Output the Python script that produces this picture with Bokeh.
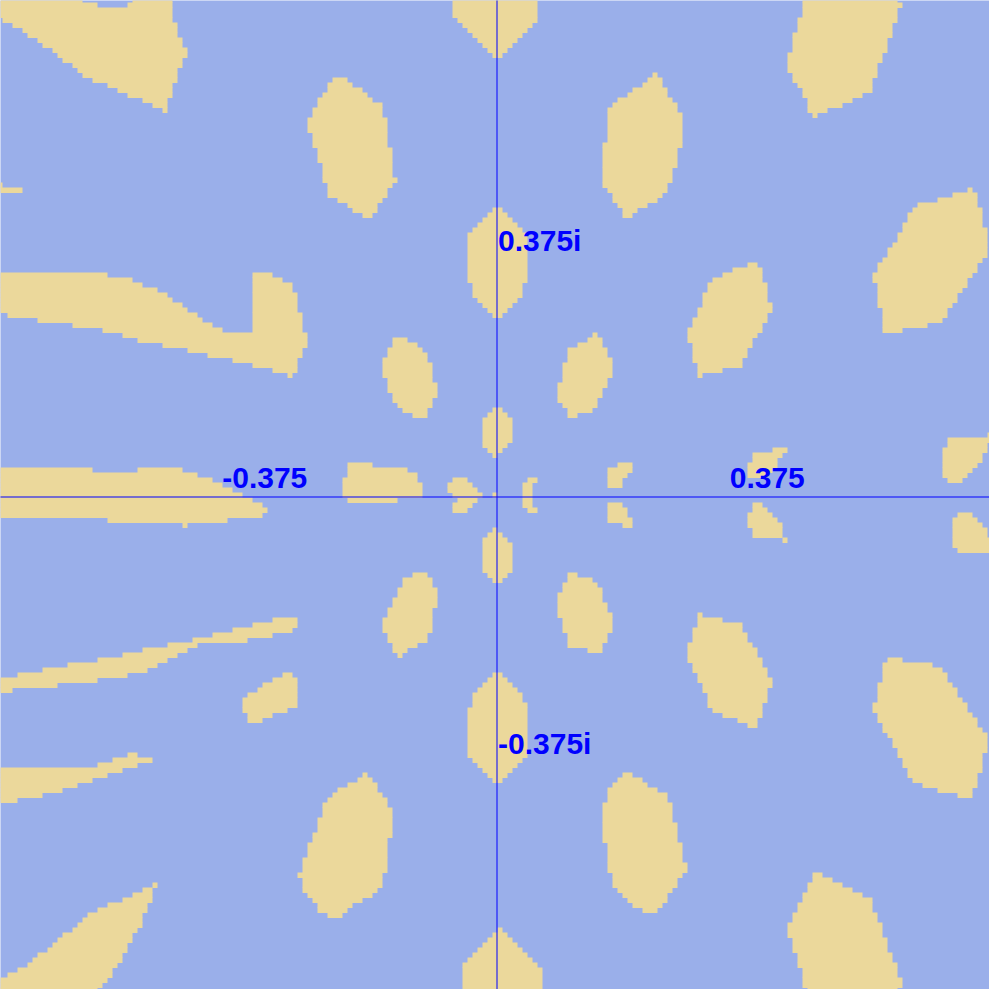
from bokeh.plotting import figure
from bokeh.core.properties import value
from bokeh.embed import file_html
from bokeh.resources import INLINE

# the picture is a sampled grid: one cell = 1/134 unit, the axes cross at cell 100.9
CELL = 1 / 134
ZERO = 100.9
PIXEL = 1 / 670  # one screen pixel in plane units

# yellow runs: (first row, last row, first col, end col)
top_left_wedge = [(0, 0, 0, 16), (0, 0, 28, 36), (1, 1, 0, 18), (1, 1, 28, 36), (2, 2, 0, 21), (2, 2, 27, 36),
                  (3, 4, 0, 36), (5, 5, 2, 36), (6, 6, 4, 37), (7, 7, 6, 37), (8, 8, 7, 37), (9, 9, 9, 38),
                  (10, 10, 10, 38), (11, 11, 12, 39), (12, 12, 13, 39), (13, 13, 14, 38), (14, 14, 16, 38),
                  (15, 15, 17, 37), (16, 16, 18, 37), (17, 17, 20, 37), (18, 18, 23, 36), (19, 19, 25, 36),
                  (20, 20, 27, 36), (21, 21, 30, 35), (22, 22, 32, 35), (23, 23, 34, 35)]
left_sliver = [(38, 38, 0, 2), (39, 39, 0, 6)]
upper_left_streak = [(56, 56, 0, 23), (56, 56, 52, 56), (57, 57, 0, 28), (57, 57, 52, 58), (58, 58, 0, 30),
                     (58, 59, 52, 60), (59, 59, 0, 33), (60, 60, 0, 35), (60, 63, 52, 61), (61, 61, 0, 36),
                     (62, 62, 0, 38), (63, 63, 0, 39), (64, 64, 3, 41), (64, 67, 52, 62), (65, 65, 9, 42),
                     (66, 66, 16, 44), (67, 67, 22, 46), (68, 68, 26, 63), (69, 69, 29, 63), (70, 70, 34, 63),
                     (71, 71, 39, 62), (72, 72, 43, 62), (73, 73, 48, 61), (74, 74, 52, 61), (75, 75, 56, 61),
                     (76, 76, 59, 60)]
upper_left_oval = [(17, 17, 68, 71), (18, 18, 67, 72), (19, 19, 67, 74), (20, 20, 66, 75), (21, 21, 65, 76),
                   (22, 22, 65, 78), (23, 24, 64, 78), (25, 27, 63, 79), (28, 30, 64, 79), (31, 33, 65, 80),
                   (34, 36, 66, 80), (37, 37, 66, 81), (38, 38, 67, 80), (39, 40, 67, 79), (41, 41, 69, 78),
                   (42, 42, 71, 77), (43, 43, 72, 77), (44, 44, 74, 76)]
top_center = [(0, 4, 92, 109), (5, 5, 93, 109), (6, 6, 94, 108), (7, 7, 95, 107), (8, 8, 96, 106),
              (9, 9, 97, 105), (10, 10, 98, 104), (11, 11, 99, 103), (12, 12, 100, 102)]
upper_axis_drop = [(43, 43, 100, 102), (44, 44, 99, 103), (45, 45, 98, 104), (46, 46, 97, 105), (47, 47, 96, 106),
                   (48, 57, 95, 107), (58, 60, 96, 106), (61, 61, 97, 105), (62, 62, 98, 104), (63, 63, 99, 103),
                   (64, 64, 100, 102)]
upper_right_oval = [(16, 16, 132, 133), (17, 17, 131, 134), (18, 18, 130, 134), (19, 19, 128, 135),
                    (20, 20, 127, 135), (21, 21, 125, 136), (22, 22, 124, 137), (23, 23, 123, 137),
                    (24, 29, 123, 138), (30, 30, 122, 138), (31, 34, 122, 137), (35, 37, 122, 136),
                    (38, 38, 122, 135), (39, 39, 123, 135), (40, 40, 124, 134), (41, 41, 124, 133),
                    (42, 42, 125, 131), (43, 43, 126, 129), (44, 44, 126, 128)]
top_right_oval = [(0, 0, 163, 181), (1, 1, 162, 181), (2, 2, 162, 182), (3, 4, 162, 181), (5, 5, 161, 181),
                  (6, 7, 161, 180), (8, 8, 160, 180), (9, 11, 160, 179), (12, 13, 159, 178), (14, 15, 159, 177),
                  (16, 16, 160, 177), (17, 17, 160, 176), (18, 18, 161, 176), (19, 19, 162, 176),
                  (20, 20, 162, 174), (21, 21, 163, 172), (22, 22, 163, 170), (23, 23, 163, 167),
                  (24, 24, 164, 165)]
far_right_oval = [(39, 39, 195, 196), (40, 40, 192, 197), (41, 41, 189, 197), (42, 42, 185, 197),
                  (43, 43, 184, 198), (44, 45, 183, 198), (46, 46, 182, 198), (47, 47, 182, 199),
                  (48, 49, 181, 199), (50, 50, 180, 199), (51, 52, 179, 199), (53, 53, 178, 198),
                  (54, 55, 177, 197), (56, 56, 176, 196), (57, 57, 176, 195), (58, 58, 177, 195),
                  (59, 59, 177, 194), (60, 61, 177, 193), (62, 62, 177, 192), (63, 64, 178, 191),
                  (65, 65, 178, 190), (66, 66, 178, 187), (67, 67, 178, 182)]
right_oval = [(54, 54, 151, 153), (55, 55, 148, 154), (56, 56, 146, 154), (57, 57, 144, 154), (58, 59, 143, 155),
              (60, 61, 142, 155), (62, 62, 142, 156), (63, 63, 141, 156), (64, 64, 141, 155), (65, 65, 140, 155),
              (66, 66, 140, 154), (67, 67, 139, 154), (68, 68, 139, 153), (69, 69, 139, 152), (70, 70, 140, 152),
              (71, 72, 140, 151), (73, 73, 140, 150), (74, 74, 141, 150), (75, 75, 141, 146), (76, 76, 141, 142)]

# inner ring around the origin
inner_upper_left = [(69, 69, 80, 83), (70, 70, 80, 85), (71, 71, 79, 86), (72, 72, 79, 87), (73, 73, 78, 87),
                    (74, 76, 78, 88), (77, 77, 79, 88), (78, 79, 79, 89), (80, 80, 80, 89), (81, 81, 80, 88),
                    (82, 82, 81, 88), (83, 83, 82, 87), (84, 84, 84, 87)]
inner_upper_right = [(68, 68, 120, 121), (69, 69, 119, 122), (70, 70, 117, 122), (71, 72, 115, 123),
                     (73, 73, 115, 124), (74, 76, 114, 124), (77, 77, 114, 123), (78, 78, 113, 123),
                     (79, 80, 113, 122), (81, 81, 113, 121), (82, 82, 114, 121), (83, 83, 115, 120),
                     (84, 84, 115, 117)]
inner_top = [(83, 83, 100, 102), (84, 84, 99, 103), (85, 89, 98, 104), (90, 90, 98, 103), (91, 91, 99, 102),
             (92, 92, 100, 101)]
inner_left_band = [(94, 94, 71, 76), (95, 95, 71, 83), (96, 96, 71, 85), (97, 97, 70, 85), (98, 100, 70, 86),
                   (101, 101, 71, 81)]
center_left = [(97, 97, 92, 95), (98, 98, 91, 96), (99, 99, 91, 97), (100, 100, 92, 98), (101, 101, 93, 97),
               (102, 102, 92, 96), (103, 103, 92, 95)]
center_dot = [(100, 100, 100, 101)]
center_right = [(97, 97, 107, 109), (98, 102, 106, 108), (103, 103, 107, 109)]
inner_right = [(94, 94, 125, 128), (95, 95, 123, 128), (96, 96, 123, 127), (97, 98, 123, 126),
               (102, 102, 123, 126), (103, 104, 123, 127), (105, 105, 123, 128), (106, 106, 126, 128)]
inner_bottom = [(107, 107, 100, 101), (108, 108, 99, 102), (109, 109, 98, 103), (110, 115, 98, 104),
                (116, 116, 99, 103), (117, 117, 100, 102)]
inner_lower_left = [(116, 116, 84, 87), (117, 118, 82, 88), (119, 120, 81, 89), (121, 122, 80, 89),
                    (123, 124, 79, 88), (125, 127, 78, 88), (128, 129, 79, 87), (130, 130, 80, 85),
                    (131, 131, 80, 83), (132, 132, 81, 82)]
inner_lower_right = [(116, 116, 115, 117), (117, 117, 115, 120), (118, 118, 114, 121), (119, 119, 114, 122),
                     (120, 121, 113, 122), (122, 123, 113, 123), (124, 124, 113, 124), (125, 127, 114, 124),
                     (128, 129, 115, 123), (130, 130, 115, 122), (131, 131, 119, 122)]

# right half, near the real axis
label_blob_upper = [(91, 91, 156, 159), (92, 92, 152, 158), (93, 93, 152, 157), (94, 94, 151, 157),
                    (95, 95, 151, 156), (96, 96, 151, 155)]
label_blob_lower = [(102, 102, 152, 154), (103, 103, 152, 155), (104, 104, 151, 156), (105, 105, 151, 157),
                    (106, 106, 151, 158), (107, 108, 152, 158), (109, 109, 158, 159)]
edge_right_upper = [(88, 88, 199, 200), (89, 89, 191, 200), (90, 90, 191, 199), (91, 91, 190, 199),
                    (92, 93, 190, 198), (94, 94, 190, 197), (95, 95, 190, 196), (96, 96, 190, 195),
                    (97, 97, 191, 194)]
edge_right_lower = [(104, 104, 193, 196), (105, 105, 192, 197), (106, 106, 192, 198), (107, 108, 192, 199),
                    (109, 110, 192, 200), (111, 111, 193, 201)]
lower_right_oval = [(124, 124, 141, 142), (125, 125, 141, 146), (126, 126, 141, 150), (127, 127, 140, 150),
                    (128, 129, 140, 151), (130, 130, 139, 152), (131, 132, 139, 153), (133, 133, 139, 154),
                    (134, 134, 140, 154), (135, 135, 140, 155), (136, 136, 141, 155), (137, 137, 141, 156),
                    (138, 138, 142, 156), (139, 139, 142, 155), (140, 141, 143, 155), (142, 142, 143, 154),
                    (143, 143, 144, 154), (144, 144, 146, 154), (145, 145, 149, 153), (146, 146, 151, 153)]
far_lower_right = [(133, 133, 179, 182), (134, 134, 178, 188), (135, 135, 178, 190), (136, 137, 178, 191),
                   (138, 138, 177, 192), (139, 140, 177, 193), (141, 141, 177, 194), (142, 143, 176, 195),
                   (144, 144, 177, 196), (145, 145, 177, 197), (146, 146, 178, 197), (147, 147, 178, 198),
                   (148, 148, 179, 199), (149, 150, 180, 199), (151, 151, 181, 199), (152, 152, 181, 198),
                   (153, 154, 182, 198), (155, 155, 183, 198), (156, 156, 183, 197), (157, 157, 184, 197),
                   (158, 158, 186, 197), (159, 159, 189, 196), (160, 160, 193, 196)]
bottom_right_oval = [(176, 176, 164, 166), (177, 177, 164, 168), (178, 178, 163, 170), (179, 179, 163, 172),
                     (180, 180, 162, 174), (181, 181, 162, 176), (182, 183, 161, 176), (184, 185, 160, 177),
                     (186, 188, 159, 178), (189, 191, 160, 179), (192, 193, 161, 180), (194, 194, 161, 181),
                     (195, 196, 162, 181), (197, 198, 162, 182), (199, 200, 163, 181)]

# left half, below the upper streak
real_axis_band = [(95, 95, 0, 20), (95, 95, 29, 38), (96, 96, 0, 41), (97, 97, 0, 44), (98, 98, 0, 46),
                  (99, 99, 0, 48), (100, 100, 0, 50), (101, 101, 0, 52), (102, 102, 0, 54), (103, 103, 0, 55),
                  (104, 104, 0, 54), (105, 105, 23, 47), (106, 106, 38, 39)]
lower_left_streak = [(125, 125, 56, 61), (126, 126, 52, 61), (127, 127, 48, 60), (128, 128, 44, 56),
                     (129, 129, 40, 51), (130, 130, 35, 41), (131, 131, 30, 39), (132, 132, 26, 37),
                     (133, 133, 21, 35), (134, 134, 15, 33), (135, 135, 10, 31), (136, 136, 5, 27),
                     (137, 137, 0, 21), (138, 138, 0, 13), (139, 139, 0, 4)]
small_lower_left = [(136, 136, 58, 60), (137, 137, 56, 61), (138, 138, 54, 61), (139, 139, 53, 61),
                    (140, 140, 51, 61), (141, 142, 50, 61), (143, 143, 50, 59), (144, 144, 51, 56),
                    (145, 145, 51, 54)]
thin_lower_streak = [(152, 152, 27, 29), (153, 153, 24, 32), (154, 154, 21, 29), (155, 155, 0, 26),
                     (156, 156, 0, 23), (157, 157, 0, 20), (158, 158, 0, 17), (159, 159, 0, 14),
                     (160, 160, 0, 10), (161, 161, 0, 5), (162, 162, 0, 1)]
bottom_left_wedge = [(178, 178, 32, 33), (179, 179, 30, 32), (180, 180, 28, 32), (181, 181, 26, 32),
                     (182, 182, 23, 31), (183, 183, 21, 31), (184, 184, 19, 30), (185, 185, 18, 30),
                     (186, 186, 17, 30), (187, 187, 16, 29), (188, 188, 14, 28), (189, 189, 13, 28),
                     (190, 190, 12, 27), (191, 191, 11, 27), (192, 192, 9, 26), (193, 193, 8, 26),
                     (194, 194, 7, 25), (195, 195, 5, 24), (196, 196, 3, 24), (197, 197, 1, 23),
                     (198, 198, 0, 22), (199, 199, 0, 21), (200, 200, 0, 20)]
lower_axis_drop = [(136, 136, 100, 102), (137, 137, 99, 103), (138, 138, 98, 104), (139, 139, 97, 105),
                   (140, 141, 96, 106), (142, 142, 96, 107), (143, 152, 95, 107), (153, 153, 96, 106),
                   (154, 154, 97, 105), (155, 155, 98, 104), (156, 156, 99, 103), (157, 157, 100, 102)]
lower_left_oval = [(156, 156, 74, 75), (157, 157, 73, 76), (158, 158, 71, 77), (159, 159, 69, 77),
                   (160, 160, 68, 78), (161, 161, 67, 79), (162, 162, 66, 79), (163, 164, 66, 80),
                   (165, 167, 65, 80), (168, 168, 64, 80), (169, 169, 64, 79), (170, 172, 63, 79),
                   (173, 175, 62, 79), (176, 176, 61, 78), (177, 178, 62, 78), (179, 179, 62, 77),
                   (180, 180, 63, 76), (181, 181, 64, 74), (182, 182, 65, 72), (183, 183, 65, 71),
                   (184, 184, 67, 70)]
lower_center_right_oval = [(156, 156, 126, 128), (157, 157, 125, 130), (158, 158, 124, 131), (159, 159, 123, 133),
                           (160, 161, 123, 135), (162, 165, 122, 136), (166, 169, 122, 137), (170, 173, 123, 138),
                           (174, 175, 123, 139), (176, 176, 124, 138), (177, 178, 124, 137), (179, 179, 125, 136),
                           (180, 180, 126, 135), (181, 181, 127, 135), (182, 182, 128, 134), (183, 183, 130, 133)]
bottom_center = [(187, 187, 101, 102), (188, 188, 100, 103), (189, 189, 99, 104), (190, 190, 98, 105),
                 (191, 191, 97, 106), (192, 192, 96, 107), (193, 193, 95, 108), (194, 194, 94, 109),
                 (195, 200, 94, 110)]

real_ticks = [-0.375, 0.375]
real_labels = ["-0.375", "0.375"]
imag_ticks = [0.375, -0.375]
imag_labels = ["0.375i", "-0.375i"]

BLUE_BG = "#9aafea"
SAND = "#ebd89b"
AXIS_BLUE = "#0000ff"

blobs = [top_left_wedge, left_sliver, upper_left_streak, upper_left_oval, top_center, upper_axis_drop,
         upper_right_oval, top_right_oval, far_right_oval, right_oval, inner_upper_left, inner_upper_right,
         inner_top, inner_left_band, center_left, center_dot, center_right, inner_right, inner_bottom,
         inner_lower_left, inner_lower_right, label_blob_upper, label_blob_lower, edge_right_upper,
         edge_right_lower, lower_right_oval, far_lower_right, bottom_right_oval, real_axis_band,
         lower_left_streak, small_lower_left, thin_lower_streak, bottom_left_wedge, lower_axis_drop,
         lower_left_oval, lower_center_right_oval, bottom_center]

# each run is one quad; runs overlap the next row a little so no hairline seams show
left, right, top, bottom = [], [], [], []
for blob in blobs:
    for r0, r1, c0, c1 in blob:
        left.append((c0 - ZERO) * CELL)
        right.append((c1 - ZERO) * CELL)
        top.append((ZERO - r0) * CELL)
        bottom.append((ZERO - r1 - 1.1) * CELL)

p = figure(width=989, height=989,
           x_range=(-496.5 / 670, 492.5 / 670), y_range=(-492.5 / 670, 496.5 / 670),
           output_backend="svg", toolbar_location=None,
           x_axis_location=None, y_axis_location=None,
           min_border=0, outline_line_color=None,
           background_fill_color=BLUE_BG, border_fill_color=BLUE_BG)
p.grid.visible = False

p.quad(left=left, right=right, top=top, bottom=bottom, fill_color=SAND, line_color=None)

# real and imaginary axes: one-pixel bands through the origin, so they stay crisp
half = PIXEL / 2
p.quad(left=[-1, -half], right=[1, half], top=[half, 1], bottom=[-half, -1],
       fill_color=AXIS_BLUE, line_color=None)

p.text(x=real_ticks, y=[0] * len(real_ticks), text=real_labels,
       text_align="center", text_baseline="alphabetic", x_offset=19, y_offset=-19,
       text_font=value("Liberation Sans"), text_font_style="bold", text_font_size="30px",
       text_color=AXIS_BLUE)
p.text(x=[0] * len(imag_ticks), y=imag_ticks, text=imag_labels,
       text_align="left", text_baseline="alphabetic", x_offset=1, y_offset=-5,
       text_font=value("Liberation Sans"), text_font_style="bold", text_font_size="30px",
       text_color=AXIS_BLUE)

open("out.html", "w").write(file_html(p, INLINE))
